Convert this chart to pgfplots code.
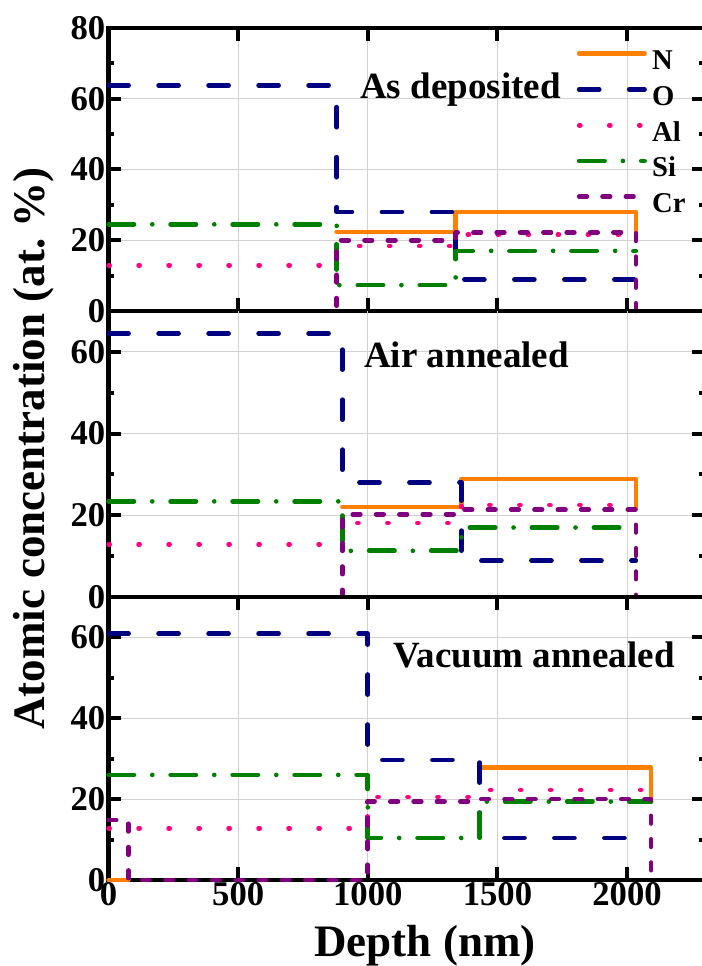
\documentclass[border=0pt]{standalone}
\usepackage{fontspec}
\setmainfont{Liberation Serif}
\usepackage{pgfplots}
\pgfplotsset{compat=1.18}

\definecolor{cN}{RGB}{255,128,0}
\definecolor{cO}{RGB}{0,0,128}
\definecolor{cAl}{RGB}{255,0,128}
\definecolor{cSi}{RGB}{0,128,0}
\definecolor{cCr}{RGB}{128,0,128}

\pgfplotsset{
  panel/.style={
    scale only axis, width=447.15pt, xmin=0, xmax=2300, ymin=0,
    axis line style={line width=3.6pt},
    tick style={line width=3pt, black},
    major tick length=9.5pt, minor tick length=4pt,
    tick align=inside, tick pos=both,
    xticklabel pos=bottom, yticklabel pos=left,
    xtick={0,500,1000,1500,2000},
    xmajorgrids, ymajorgrids,
    major grid style={gray!35, line width=0.8pt},
    minor y tick num=1,
    clip=false,
    ticklabel style={font=\fontsize{26}{26}\selectfont\bfseries},
    xticklabel style={yshift=2pt},
    yticklabel style={xshift=1pt},
    /pgf/number format/assume math mode=true,
  },
  sN/.style={cN, line width=3.5pt, line cap=round, line join=round},
  sO/.style={cO, line width=3.5pt, line cap=round, line join=round, dash pattern=on 15pt off 22.5pt},
  sAl/.style={cAl, line width=3.5pt, line cap=round, line join=round, dash pattern=on 0.8pt off 21.7pt},
  sSi/.style={cSi, line width=3.5pt, line cap=round, line join=round, dash pattern=on 19pt off 13.75pt on 0pt off 13.75pt},
  sCr/.style={cCr, line width=3.5pt, line cap=round, line join=round, dash pattern=on 5.7pt off 11.8pt},
}

\begin{document}
\begin{tikzpicture}
\path[use as bounding box] (0,0) rectangle (525.75pt,724.5pt);

% ---------------- Top panel: As deposited ----------------
\begin{axis}[panel, at={(81.45pt,491.25pt)}, anchor=south west,
  height=212.25pt, ymax=80,
  ytick={0,20,40,60,80}, yticklabels={0,20,40,60,80},
  xticklabels={},
  legend style={at={(0.785,0.92)}, anchor=north west, draw=none, fill=none,
    inner sep=0pt, row sep=8.8pt,
    font=\fontsize{21.5}{21.5}\selectfont\bfseries,
    nodes={inner sep=0pt, text height=14pt, text depth=4pt},
    /tikz/every even column/.append style={column sep=0pt}},
  legend cell align=left,
  legend image code/.code={\draw[#1] (1.75pt,6.9pt) -- (50.75pt,6.9pt);},
]
\addplot[sN] coordinates {(880,22.3) (1339,22.3) (1339,28) (2034,28) (2034,21)};
\addlegendentry{\hspace{4pt}N}
\addplot[sO] coordinates {(0,63.8) (880,63.8) (880,28) (1339,28) (1339,8.9) (2034,8.9)};
\addlegendentry{\hspace{4pt}O}
\addplot[sAl] coordinates {(0,12.9) (880,12.9) (880,18.4) (1339,18.4) (1339,21.6) (2034,21.6)};
\addlegendentry{\hspace{4pt}Al}
\addplot[sSi] coordinates {(0,24.5) (880,24.5) (880,7.3) (1339,7.3) (1339,17) (2034,17)};
\addlegendentry{\hspace{4pt}Si}
\addplot[sCr] coordinates {(0,0) (880,0) (880,20) (1339,20) (1339,22.2) (2034,22.2) (2034,0)};
\addlegendentry{\hspace{4pt}Cr}
\end{axis}

% ---------------- Middle panel: Air annealed ----------------
\begin{axis}[panel, at={(81.45pt,276.75pt)}, anchor=south west,
  height=214.5pt, ymax=70,
  ytick={0,20,40,60}, yticklabels={0,20,40,60},
  xtick=\empty,
  extra x ticks={500,1000,1500,2000}, extra x tick labels={},
  extra x tick style={grid=major, major tick length=0pt, tick style={draw=none}},
]
\addplot[sN] coordinates {(902,22) (1361,22) (1361,28.9) (2034,28.9) (2034,21.8)};
\addplot[sO] coordinates {(0,64.5) (902,64.5) (902,28) (1361,28) (1361,8.9) (2034,8.9)};
\addplot[sAl] coordinates {(0,12.9) (902,12.9) (902,18.1) (1361,18.1) (1361,22.5) (2034,22.5)};
\addplot[sSi] coordinates {(0,23.4) (902,23.4) (902,11.3) (1361,11.3) (1361,17) (2034,17)};
\addplot[sCr] coordinates {(0,0) (902,0) (902,20.2) (1361,20.2) (1361,21.4) (2034,21.4) (2034,0)};
\end{axis}

% ---------------- Bottom panel: Vacuum annealed ----------------
\begin{axis}[panel, at={(81.45pt,64.5pt)}, anchor=south west,
  height=212.25pt, ymax=70,
  ytick={0,20,40,60}, yticklabels={0,20,40,60},
  xticklabels={0,500,1000,1500,2000},
]
\addplot[sN] coordinates {(0,0) (76,0)};
\addplot[sN] coordinates {(1432,27.8) (2093,27.8) (2093,20)};
\addplot[sO] coordinates {(0,60.9) (1000,60.9) (1000,29.7) (1432,29.7) (1432,10.4) (2093,10.4)};
\addplot[sAl] coordinates {(0,12.8) (1000,12.8) (1000,20.5) (1432,20.5) (1432,22.3) (2093,22.3)};
\addplot[sSi] coordinates {(0,26) (1000,26) (1000,10.4) (1432,10.4) (1432,19.4) (2093,19.4)};
\addplot[sCr] coordinates {(0,14.8) (76,14.8) (76,0) (1000,0) (1000,19.4) (1432,19.4) (1432,20) (2093,20) (2093,0)};
\end{axis}

% ---------------- Texts ----------------
\node[anchor=base west, inner sep=0pt, font=\fontsize{27.75}{27.75}\selectfont\bfseries] at (270pt,650.8pt) {As deposited};
\node[anchor=base west, inner sep=0pt, font=\fontsize{27.75}{27.75}\selectfont\bfseries] at (273pt,448.5pt) {Air annealed};
\node[anchor=base west, inner sep=0pt, font=\fontsize{27.75}{27.75}\selectfont\bfseries] at (294.75pt,223.5pt) {Vacuum annealed};
\node[anchor=base, inner sep=0pt, font=\fontsize{33.75}{33.75}\selectfont\bfseries] at (318.75pt,7pt) {Depth (nm)};
\node[anchor=base, rotate=90, inner sep=0pt, font=\fontsize{33.75}{33.75}\selectfont\bfseries] at (33pt,388.1pt) {Atomic concentration (at.~\%)};
\end{tikzpicture}
\end{document}
